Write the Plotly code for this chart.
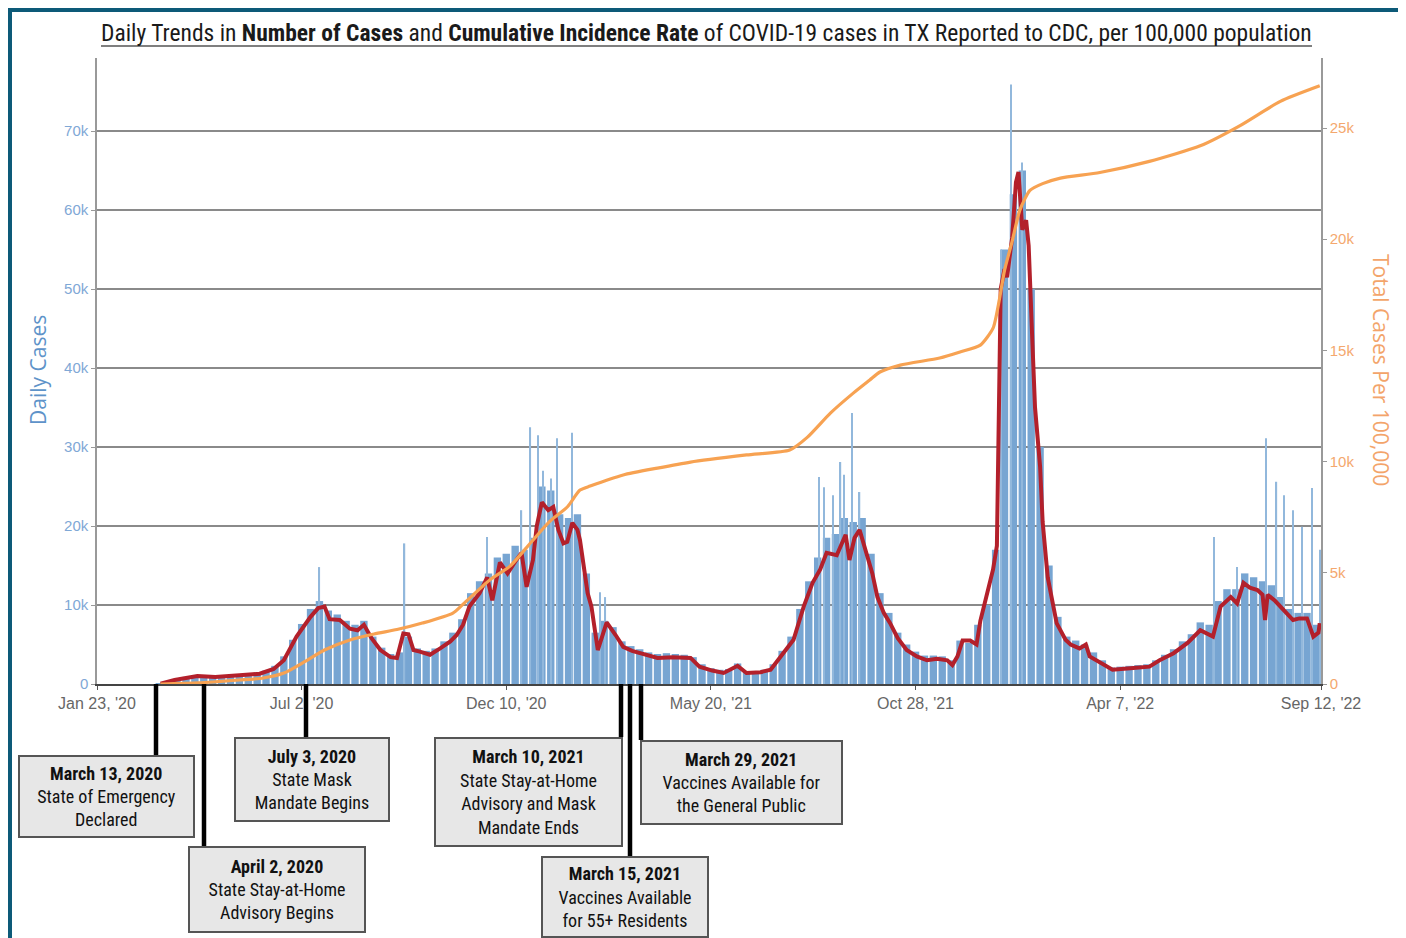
import pandas as pd
import plotly.graph_objects as go

# ---------------- data ----------------
# weekly blocks of daily cases (one value per week, week centres from 2020-03-05)
weekly_start = "2020-03-05"
weekly_cases = [
    0, 20, 250, 600, 900, 1100, 1000, 1000, 1050, 1150, 1200, 1300, 1450, 1700, 2300, 3500,
    5600, 7600, 9500, 10500, 9300, 8800, 8000, 7500, 8000, 6000, 4600, 3800, 4000, 6000, 4500, 4200,
    4500, 5400, 6500, 8200, 11500, 13000, 14000, 16000, 16500, 17500, 17000, 18500, 25000, 24500, 21500, 21000,
    21500, 14000, 6500, 8000, 7200, 5400, 4800, 4400, 4000, 3800, 3900, 3800, 3700, 3400, 2500, 2000,
    1800, 1900, 2600, 1600, 1600, 1800, 2500, 4200, 6000, 9500, 13000, 16000, 18500, 19000, 21000, 20500,
    21000, 16500, 11500, 9000, 6500, 5000, 4100, 3600, 3600, 3500, 3000, 5500, 5200, 7500, 10000, 17000,
    55000, 62000, 65000, 50000, 30000, 15000, 8500, 6000, 5500, 5000, 4000, 3000, 2100, 2200, 2300, 2400,
    2500, 3000, 3700, 4400, 5400, 6300, 7800, 7500, 10500, 12000, 12000, 14000, 13500, 13000, 12500, 11000,
    9500, 9000, 9000, 7500,
]

# single-day reporting spikes
spike_dates = [
    "2020-07-16", "2020-09-21", "2020-11-25", "2020-12-22", "2020-12-29", "2021-01-04", "2021-01-08",
    "2021-01-14", "2021-01-19", "2021-01-31", "2021-02-22", "2021-02-26", "2021-08-13", "2021-08-17",
    "2021-08-24", "2021-08-30", "2021-09-02", "2021-09-08", "2021-09-14", "2022-01-03", "2022-01-11",
    "2022-01-20", "2022-06-20", "2022-07-08", "2022-07-31", "2022-08-08", "2022-08-14", "2022-08-21",
    "2022-08-28", "2022-09-05", "2022-09-11",
]
spike_values = [
    14800, 17800, 18600, 22000, 32500, 31500, 27000,
    26000, 31100, 31800, 11600, 11000, 26200, 24900,
    23900, 28100, 26500, 34300, 24300, 55000, 75900,
    66000, 18600, 14800, 31100, 25600, 23900, 22000,
    19900, 24800, 17000,
]

# 7-day average (red line)
avg_dates = [
    "2020-03-13", "2020-03-24", "2020-04-11", "2020-04-25", "2020-05-14", "2020-05-30", "2020-06-10",
    "2020-06-18", "2020-06-28", "2020-07-09", "2020-07-15", "2020-07-20", "2020-07-24", "2020-08-01",
    "2020-08-09", "2020-08-15", "2020-08-20", "2020-08-26", "2020-09-02", "2020-09-10", "2020-09-15",
    "2020-09-20", "2020-09-24", "2020-09-28", "2020-10-03", "2020-10-11", "2020-10-19", "2020-10-27",
    "2020-11-01", "2020-11-06", "2020-11-11", "2020-11-19", "2020-11-25", "2020-11-29", "2020-12-05",
    "2020-12-11", "2020-12-17", "2020-12-22", "2020-12-26", "2020-12-31", "2021-01-03", "2021-01-07",
    "2021-01-12", "2021-01-16", "2021-01-20", "2021-01-24", "2021-01-27", "2021-01-31", "2021-02-04",
    "2021-02-06", "2021-02-12", "2021-02-15", "2021-02-20", "2021-02-24", "2021-02-27", "2021-03-06",
    "2021-03-12", "2021-03-19", "2021-03-25", "2021-04-08", "2021-04-20", "2021-05-04", "2021-05-11",
    "2021-05-21", "2021-05-30", "2021-06-10", "2021-06-17", "2021-06-28", "2021-07-06", "2021-07-13",
    "2021-07-24", "2021-08-01", "2021-08-08", "2021-08-14", "2021-08-19", "2021-08-27", "2021-09-03",
    "2021-09-06", "2021-09-10", "2021-09-14", "2021-09-20", "2021-09-24", "2021-09-28", "2021-10-03",
    "2021-10-08", "2021-10-14", "2021-10-21", "2021-10-29", "2021-11-06", "2021-11-14", "2021-11-22",
    "2021-11-26", "2021-11-30", "2021-12-04", "2021-12-10", "2021-12-15", "2021-12-18", "2021-12-23",
    "2021-12-28", "2021-12-31", "2022-01-02", "2022-01-03", "2022-01-06", "2022-01-08", "2022-01-12",
    "2022-01-15", "2022-01-17", "2022-01-18", "2022-01-20", "2022-01-23", "2022-01-25", "2022-01-28",
    "2022-01-30", "2022-02-03", "2022-02-05", "2022-02-09", "2022-02-13", "2022-02-16", "2022-02-23",
    "2022-02-27", "2022-03-06", "2022-03-11", "2022-03-14", "2022-03-22", "2022-04-01", "2022-04-15",
    "2022-04-30", "2022-05-08", "2022-05-19", "2022-05-30", "2022-06-09", "2022-06-19", "2022-06-25",
    "2022-07-03", "2022-07-08", "2022-07-13", "2022-07-18", "2022-07-24", "2022-07-28", "2022-07-30",
    "2022-08-01", "2022-08-07", "2022-08-11", "2022-08-21", "2022-08-26", "2022-09-01", "2022-09-06",
    "2022-09-10", "2022-09-11",
]
avg_values = [
    50, 500, 1000, 900, 1100, 1300, 1900,
    3000, 6000, 8500, 9600, 9800, 8200, 8100,
    7000, 6800, 7500, 5800, 4300, 3400, 3300,
    6400, 6300, 4300, 4100, 3700, 4500, 5400,
    6200, 7500, 9800, 11500, 13500, 10600, 15400,
    14000, 15500, 16600, 12300, 15700, 20000, 23000,
    22000, 22400, 19500, 17800, 18000, 20400, 19500,
    18200, 11500, 9800, 4300, 6500, 7800, 6200,
    4700, 4200, 3900, 3300, 3400, 3300, 2200,
    1700, 1400, 2300, 1400, 1500, 1800, 3300,
    5600, 9800, 12800, 14500, 16600, 16300, 18900,
    15700, 18500, 19500, 16100, 14000, 11000, 9000,
    7700, 5800, 4300, 3500, 3000, 3200, 3000,
    2400, 3500, 5500, 5500, 5000, 8000, 11500,
    14500, 17500, 35000, 50000, 52500, 51500, 56500,
    63500, 64800, 62000, 57500, 58700, 55500, 43000,
    35000, 27500, 20500, 13500, 10000, 7700, 5600,
    5000, 4500, 5000, 3500, 2800, 1800, 2000,
    2200, 3000, 3900, 5200, 6800, 6000, 9800,
    11000, 10200, 12800, 12200, 11900, 11300, 8100,
    11300, 10500, 9800, 8100, 8300, 8300, 6000,
    6500, 7700,
]

# cumulative incidence per 100,000 (orange line, right axis)
cum_dates = [
    "2020-03-13", "2020-04-12", "2020-05-14", "2020-06-02", "2020-06-18", "2020-07-04", "2020-07-20",
    "2020-08-09", "2020-08-28", "2020-09-15", "2020-10-05", "2020-10-29", "2020-11-06", "2020-11-27",
    "2020-12-13", "2020-12-29", "2021-01-13", "2021-01-27", "2021-02-06", "2021-02-14", "2021-03-12",
    "2021-04-08", "2021-05-04", "2021-06-17", "2021-07-21", "2021-08-04", "2021-08-22", "2021-09-09",
    "2021-09-22", "2021-09-30", "2021-10-16", "2021-11-16", "2021-12-02", "2021-12-18", "2021-12-28",
    "2022-01-02", "2022-01-06", "2022-01-12", "2022-01-18", "2022-01-26", "2022-02-05", "2022-02-19",
    "2022-03-22", "2022-04-30", "2022-06-09", "2022-07-10", "2022-08-11", "2022-09-11",
]
cum_values = [
    0, 50, 180, 270, 490, 990, 1530,
    1980, 2250, 2450, 2740, 3190, 3590, 4680,
    5300, 6340, 7300, 7960, 8720, 8900, 9400,
    9710, 9980, 10300, 10520, 11100, 12180, 13080,
    13670, 14030, 14340, 14660, 14930, 15240, 16000,
    17300, 18600, 19900, 21300, 22200, 22500, 22750,
    23000, 23500, 24200, 25100, 26200, 26900,
]

tick_dates = ["2020-01-23", "2020-07-02", "2020-12-10", "2021-05-20", "2021-10-28", "2022-04-07", "2022-09-12"]
tick_labels = ["Jan 23, '20", "Jul 2, '20", "Dec 10, '20", "May 20, '21", "Oct 28, '21", "Apr 7, '22", "Sep 12, '22"]

event_texts = [
    "<b>March 13, 2020</b><br>State of Emergency<br>Declared",
    "<b>April 2, 2020</b><br>State Stay-at-Home<br>Advisory Begins",
    "<b>July 3, 2020</b><br>State Mask<br>Mandate Begins",
    "<b>March 10, 2021</b><br>State Stay-at-Home<br>Advisory and Mask<br>Mandate Ends",
    "<b>March 15, 2021</b><br>Vaccines Available<br>for 55+ Residents",
    "<b>March 29, 2021</b><br>Vaccines Available for<br>the General Public",
]

# ---------------- layout geometry (page pixels of the 1406x938 window) ----------------
PAGE_W, PAGE_H = 1406, 938
OFF = 8                      # default body margin of the html page
W, H = PAGE_W - OFF, PAGE_H - OFF
PL, PR, PT, PB = 97, 1321, 58, 684   # plot area in page pixels


def px(x):
    return (x - PL) / (PR - PL)


def py(y):
    return (PB - y) / (PB - PT)


# box geometry: (left, top, right, bottom, connector x), page pixels
boxes = [
    (18, 755, 195, 838, 156),
    (188, 846, 366, 933, 204),
    (234, 737, 390, 822, 306),
    (434, 737, 623, 847, 621),
    (541, 856, 709, 938, 630),
    (640, 740, 843, 825, 641),
]

DAY = 86400000
NARROW = "Liberation Sans Narrow, Arial Narrow, Roboto Condensed, sans-serif"

weekly_x = pd.date_range(weekly_start, periods=len(weekly_cases), freq="7D")

fig = go.Figure()
fig.add_trace(go.Bar(
    x=weekly_x, y=weekly_cases, width=[5.8 * DAY] * len(weekly_cases),
    marker=dict(color="#77a5d2", line=dict(width=0)), yaxis="y", hoverinfo="skip",
))
fig.add_trace(go.Bar(
    x=pd.to_datetime(spike_dates), y=spike_values, width=[1.0 * DAY] * len(spike_values),
    marker=dict(color="#92b8dc", line=dict(width=0)), yaxis="y", hoverinfo="skip",
))
fig.add_trace(go.Scatter(
    x=pd.to_datetime(avg_dates), y=avg_values, mode="lines",
    line=dict(color="#b3202b", width=4), yaxis="y",
))
fig.add_trace(go.Scatter(
    x=pd.to_datetime(cum_dates), y=cum_values, mode="lines",
    line=dict(color="#f7a252", width=3.2, shape="spline", smoothing=0.6), yaxis="y2",
))

shapes = []
annotations = []

# outer frame
for (x0, y0, x1, y1) in [(10, 8, 10, PAGE_H), (8, 10, PAGE_W, 10), (PAGE_W - 4, 8, PAGE_W - 4, PAGE_H)]:
    shapes.append(dict(type="line", xref="paper", yref="paper",
                       x0=px(x0), y0=py(y0), x1=px(x1), y1=py(y1),
                       line=dict(color="#0d5a78", width=4)))

# title underline
shapes.append(dict(type="line", xref="paper", yref="paper",
                   x0=px(101), x1=px(1312), y0=py(46), y1=py(46),
                   line=dict(color="#555555", width=1.5)))

annotations.append(dict(
    xref="paper", yref="paper", x=px(706.5), y=py(33), xanchor="center", yanchor="middle",
    text="Daily Trends in <b>Number of Cases</b> and <b>Cumulative Incidence Rate</b> of COVID-19 cases in TX Reported to CDC, per 100,000 population",
    showarrow=False, font=dict(family=NARROW, size=23.5, color="#1a1a1a"),
))
annotations.append(dict(
    xref="paper", yref="paper", x=px(38), y=py(370), textangle=-90, showarrow=False,
    xanchor="center", yanchor="middle",
    text="Daily Cases", font=dict(family="Open Sans, sans-serif", size=21, color="#5e93c9"),
))
annotations.append(dict(
    xref="paper", yref="paper", x=px(1381), y=py(370), textangle=90, showarrow=False,
    xanchor="center", yanchor="middle",
    text="Total Cases Per 100,000", font=dict(family="Open Sans, sans-serif", size=21, color="#f3a46a"),
))

for (l, t, r, b, cx), txt in zip(boxes, event_texts):
    shapes.append(dict(type="line", xref="paper", yref="paper",
                       x0=px(cx), x1=px(cx), y0=py(PB), y1=py(t),
                       line=dict(color="black", width=4.5)))
    annotations.append(dict(
        xref="paper", yref="paper", x=px((l + r) / 2), y=py((t + b) / 2),
        xanchor="center", yanchor="middle", showarrow=False, text=txt,
        width=r - l - 4, height=b - t - 4, align="center", valign="middle",
        bgcolor="#e7e7e7", bordercolor="#555555", borderwidth=2, borderpad=0,
        font=dict(family=NARROW, size=18, color="#111111"),
    ))

fig.update_layout(
    width=W, height=H,
    margin=dict(l=PL - OFF, r=PAGE_W - PR, t=PT - OFF, b=PAGE_H - PB),
    paper_bgcolor="white", plot_bgcolor="white",
    showlegend=False, barmode="overlay",
    font=dict(family="Liberation Sans, Arial, sans-serif"),
    xaxis=dict(
        type="date", range=["2020-01-23", "2022-09-12"],
        tickvals=tick_dates, ticktext=tick_labels,
        tickfont=dict(size=16, color="#666666"),
        ticks="outside", ticklen=4, tickcolor="#555555",
        showline=True, linecolor="#444444", linewidth=1.5,
        showgrid=False, zeroline=False,
    ),
    yaxis=dict(
        range=[0, 79240], tickvals=[0, 10000, 20000, 30000, 40000, 50000, 60000, 70000],
        ticktext=["0", "10k", "20k", "30k", "40k", "50k", "60k", "70k"],
        tickfont=dict(size=15, color="#7fa8d6"),
        showgrid=True, gridcolor="#8a8a8a", gridwidth=1.5,
        showline=True, linecolor="#999999", linewidth=1.5,
        ticks="outside", ticklen=4, tickcolor="#999999",
        zeroline=False,
    ),
    yaxis2=dict(
        overlaying="y", side="right", range=[0, 28150],
        tickvals=[0, 5000, 10000, 15000, 20000, 25000],
        ticktext=["0", "5k", "10k", "15k", "20k", "25k"],
        tickfont=dict(size=15, color="#f4a86e"),
        showgrid=False, showline=True, linecolor="#999999", linewidth=1.5,
        ticks="outside", ticklen=4, tickcolor="#999999",
        zeroline=False,
    ),
    shapes=shapes,
    annotations=annotations,
)

fig.write_html("out.html")
